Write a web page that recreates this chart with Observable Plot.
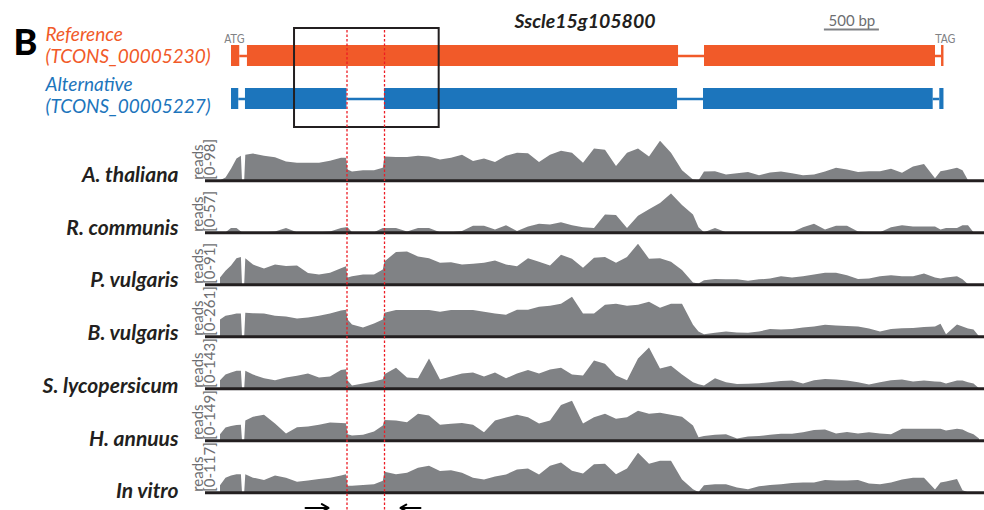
<!DOCTYPE html>
<html><head><meta charset="utf-8">
<script src="https://cdn.jsdelivr.net/npm/d3@7"></script>
<script src="https://cdn.jsdelivr.net/npm/@observablehq/plot@0.6"></script>
<style>
body{margin:0;background:#fff;}
#chart{position:relative;width:984px;height:510px;overflow:hidden;background:#fff;}
#chart svg{position:absolute;left:0;}
</style></head><body><div id="chart"></div>
<script>
// ---------- data ----------
const geneName = "Sscle15g105800";
const panelLetter = "B";
const transcripts = ["Reference", "Alternative"];
const transcriptIds = ["TCONS_00005230", "TCONS_00005227"];
// gene models, bp from ATG
const refBlocks = [[0, 75], [145, 4064], [4300, 6400], [6455, 6477]];
const refLinks = [[75, 145], [4064, 4300], [6400, 6455]];
const altBlocks = [[0, 66], [127, 1050], [1391, 4055], [4291, 6379], [6439, 6477]];
const altLinks = [[66, 127], [1050, 1391], [4055, 4291], [6379, 6439]];
const spliceSites = [1050, 1391];
const zoomBox = [573, 1888];
const scaleBar = [5390, 5890];
const primers = [[673, 882], [1718, 1536]];

const species = ["A. thaliana", "R. communis", "P. vulgaris", "B. vulgaris", "S. lycopersicum", "H. annuus", "In vitro"];
const maxReads = [98, 57, 91, 261, 143, 149, 117];

const positions = [-100, -50, 0, 50, 90, 100, 120, 130,
  200, 300, 400, 500, 600, 700, 800, 900, 1000,
  1045, 1060, 1100, 1200, 1300, 1380, 1395,
  1500, 1600, 1700, 1800, 1900, 2000, 2100, 2200, 2300, 2400,
  2500, 2600, 2700, 2800, 2900, 3000, 3100, 3200, 3300, 3400,
  3500, 3600, 3700, 3800, 3900, 4000, 4100, 4200, 4250,
  4300, 4400, 4500, 4600, 4700, 4800, 4900, 5000, 5100, 5200,
  5300, 5400, 5500, 5600, 5700, 5800, 5900, 6000, 6100, 6200,
  6300, 6400, 6450, 6500, 6600, 6650, 6700, 6750, 6800];

const covAthaliana = [0, 7, 28, 52, 59, 0, 0, 61,
  64, 59, 55, 45, 42, 42, 42, 47, 54,
  54, 26, 21, 24, 24, 30, 57,
  56, 56, 59, 57, 50, 54, 61, 46, 52, 44,
  59, 66, 65, 44, 61, 71, 66, 42, 76, 73,
  34, 66, 76, 57, 95, 66, 24, 2, 0,
  21, 22, 14, 17, 20, 12, 19, 21, 17, 12,
  14, 21, 30, 26, 20, 22, 22, 28, 18, 33,
  39, 5, 22, 24, 30, 24, 0, 0, 0];
const covRcommunis = [0, 0, 6, 6, 1, 0, 0, 0,
  0, 0, 1, 6, 0, 0, 0, 1, 6,
  7, 7, 0, 0, 0, 6, 6,
  6, 1, 6, 6, 0, 0, 2, 9, 9, 4,
  10, 2, 8, 12, 11, 14, 10, 7, 6, 25,
  24, 6, 23, 32, 41, 54, 38, 25, 7,
  0, 6, 0, 0, 0, 0, 0, 0, 0, 7,
  12, 4, 9, 9, 1, 0, 0, 7, 10, 8,
  8, 8, 4, 6, 6, 10, 10, 0, 0];
const covPvulgaris = [15, 30, 42, 58, 61, 0, 0, 58,
  44, 35, 44, 41, 42, 25, 22, 26, 36,
  40, 15, 18, 22, 22, 33, 51,
  72, 73, 62, 58, 48, 49, 44, 46, 48, 53,
  44, 40, 58, 50, 42, 66, 57, 37, 59, 61,
  48, 61, 90, 57, 58, 50, 32, 4, 2,
  9, 12, 11, 11, 8, 11, 13, 18, 15, 18,
  22, 26, 26, 20, 12, 13, 18, 20, 18, 18,
  24, 15, 13, 15, 18, 11, 0, 0, 0];
const covBvulgaris = [107, 132, 138, 145, 145, 0, 0, 151,
  147, 145, 132, 126, 113, 120, 132, 145, 164,
  170, 107, 75, 57, 82, 107, 151,
  168, 168, 168, 168, 157, 168, 168, 168, 157, 145,
  138, 170, 170, 189, 195, 208, 252, 145, 145, 201,
  208, 195, 201, 220, 182, 208, 208, 74, 31,
  13, 22, 31, 25, 22, 31, 46, 44, 47, 57,
  63, 74, 69, 66, 63, 50, 31, 47, 52, 53,
  60, 63, 80, 13, 75, 63, 50, 44, 0];
const covSlycopersicum = [28, 48, 55, 61, 61, 0, 0, 61,
  48, 35, 28, 38, 44, 52, 38, 41, 64,
  67, 27, 10, 17, 24, 32, 49,
  72, 38, 35, 104, 31, 41, 52, 55, 41, 55,
  35, 52, 64, 52, 66, 72, 48, 45, 97, 86,
  45, 28, 104, 143, 69, 79, 48, 21, 14,
  10, 35, 21, 15, 16, 18, 21, 26, 27, 17,
  28, 33, 31, 27, 21, 13, 21, 28, 31, 24,
  27, 24, 23, 17, 27, 27, 21, 17, 0];
const covHannuus = [22, 47, 52, 56, 57, 0, 0, 72,
  86, 93, 61, 25, 48, 50, 57, 65, 63,
  62, 22, 18, 20, 32, 54, 74,
  72, 66, 97, 90, 57, 60, 63, 57, 29, 72,
  83, 93, 84, 61, 72, 129, 144, 61, 84, 97,
  79, 84, 108, 97, 100, 93, 86, 54, 11,
  16, 20, 22, 7, 14, 16, 20, 24, 24, 29,
  38, 39, 25, 30, 25, 29, 25, 22, 42, 42,
  42, 42, 42, 36, 42, 39, 29, 22, 7];
const covInvitro = [20, 42, 48, 52, 52, 0, 0, 52,
  42, 35, 48, 42, 30, 34, 38, 42, 48,
  52, 19, 19, 21, 23, 33, 59,
  52, 56, 70, 76, 61, 63, 56, 42, 37, 45,
  51, 65, 68, 51, 76, 85, 62, 54, 80, 82,
  52, 68, 113, 82, 90, 90, 37, 9, 1,
  20, 23, 23, 14, 9, 17, 21, 23, 27, 28,
  28, 35, 34, 34, 35, 25, 23, 28, 37, 42,
  42, 8, 28, 31, 38, 6, 0, 0, 0];
const coverages = [covAthaliana, covRcommunis, covPvulgaris, covBvulgaris, covSlycopersicum, covHannuus, covInvitro];

// ---------- layout ----------
const W = 984;
const pxPerBp = 55 / 500;                 // 500 bp scale bar = 55 px
const left = 205, atgPx = 231;
const xDomain = [(left - atgPx) / pxPerBp, (W - atgPx) / pxPerBp];
const orange = "#f15a29", blue = "#1c75bc", grey = "#808285", dark = "#231f20", textGrey = "#6d6e71";
const font = "Lato, 'Open Sans', sans-serif";
const narrow = "'Liberation Sans Narrow', 'DejaVu Sans Condensed', Lato, sans-serif";
const container = document.getElementById("chart");

// ---------- gene model ----------
const gene = Plot.plot({
  width: W, height: 130, marginLeft: left, marginRight: 0, marginTop: 34, marginBottom: 10,
  x: {domain: xDomain, axis: null},
  y: {type: "band", domain: transcripts, paddingInner: 0.512, paddingOuter: 0.256, axis: null},
  style: {fontFamily: font, background: "transparent", overflow: "visible"},
  marks: [
    Plot.ruleY(refLinks, {x1: d => d[0], x2: d => d[1], y: () => transcripts[0], stroke: orange, strokeWidth: 2.5}),
    Plot.barX(refBlocks, {x1: d => d[0], x2: d => d[1], y: () => transcripts[0], fill: orange}),
    Plot.ruleY(altLinks, {x1: d => d[0], x2: d => d[1], y: () => transcripts[1], stroke: blue, strokeWidth: 2.5}),
    Plot.barX(altBlocks, {x1: d => d[0], x2: d => d[1], y: () => transcripts[1], fill: blue}),
    Plot.barX([zoomBox], {x1: d => d[0], x2: d => d[1], fill: "none", stroke: dark, strokeWidth: 2, insetTop: -6, insetBottom: -7}),
    Plot.barX([scaleBar], {x1: d => d[0], x2: d => d[1], fill: grey, insetTop: -5.5, insetBottom: 89.5}),
    Plot.text([scaleBar], {x: d => (d[0] + d[1]) / 2, text: d => `${d[1] - d[0]} bp`, frameAnchor: "top", lineAnchor: "bottom", dy: -9, fontSize: 15, fill: textGrey}),
    Plot.text([geneName], {text: d => d, frameAnchor: "top", lineAnchor: "bottom", dx: -10, dy: -7, fontSize: 19.5, fontWeight: "bold", fontStyle: "italic", fill: dark}),
    Plot.text(["ATG"], {x: () => refBlocks[0][0], text: d => d, frameAnchor: "top", lineAnchor: "bottom", dx: 3, dy: 8, fontSize: 11.5, fill: grey, fontFamily: narrow}),
    Plot.text(["TAG"], {x: () => refBlocks[refBlocks.length - 1][1], text: d => d, frameAnchor: "top", lineAnchor: "bottom", dx: 1.5, dy: 8, fontSize: 11.5, fill: grey, fontFamily: narrow}),
    Plot.text([panelLetter], {text: d => d, frameAnchor: "top-left", textAnchor: "start", lineAnchor: "bottom", dx: -192, dy: 20, fontSize: 36, fontWeight: "900", fill: "#000"}),
    Plot.text([transcripts[0]], {y: d => d, text: d => `${d}\n(${transcriptIds[0]})`, frameAnchor: "left", textAnchor: "start", lineAnchor: "bottom", lineHeight: 1.15, dx: -160, dy: 6.8, fontSize: 19, fontStyle: "italic", fill: orange}),
    Plot.text([transcripts[1]], {y: d => d, text: d => `${d}\n(${transcriptIds[1]})`, frameAnchor: "left", textAnchor: "start", lineAnchor: "bottom", lineHeight: 1.15, dx: -160, dy: 14.2, fontSize: 19, fontStyle: "italic", fill: blue})
  ]
});
gene.style.top = "0px";
container.appendChild(gene);

// ---------- coverage tracks ----------
const rows = [];
coverages.forEach((vals, i) => vals.forEach((v, j) => rows.push({species: species[i], pos: positions[j], reads: v, frac: Math.min(v / maxReads[i], 1)})));

const step = 52.75, peakPx = 41.5, baseFromTop = 48;
const tracksH = 380;
const labelDrift = 0.75; // species labels drift slightly downward relative to the tracks
const tracks = Plot.plot({
  width: W, height: tracksH, marginLeft: left, marginRight: 0, marginTop: 0, marginBottom: tracksH - 7 * step,
  x: {domain: xDomain, axis: null},
  y: {domain: [-(step - baseFromTop) / peakPx, 1 + (baseFromTop - peakPx) / peakPx], axis: null},
  fy: {domain: species, axis: null, padding: 0},
  style: {fontFamily: font, background: "transparent", overflow: "visible"},
  marks: [
    Plot.areaY(rows, {x: "pos", y: "frac", fy: "species", fill: grey}),
    Plot.ruleY(species, {y: () => 0, fy: d => d, stroke: dark, strokeWidth: 3}),
    Plot.text(species, {fy: d => d, y: (d, i) => -(i * labelDrift) / peakPx, text: d => d, frameAnchor: "left", textAnchor: "end", lineAnchor: "bottom", dx: -27, dy: 1, fontSize: 21, fontWeight: "bold", fontStyle: "italic", fill: dark}),
    Plot.text(species, {fy: d => d, y: () => 0, text: () => "reads", frameAnchor: "left", rotate: -90, textAnchor: "start", lineAnchor: "middle", dx: -7, dy: -1, fontSize: 15, fill: textGrey}),
    Plot.text(species, {fy: d => d, y: () => 0, text: (d, i) => `[0-${maxReads[i]}]`, frameAnchor: "left", rotate: -90, textAnchor: "start", lineAnchor: "middle", dx: 4.5, dy: -1, fontSize: 15, fill: textGrey}),
    Plot.arrow(primers, {x1: d => d[0], x2: d => d[1], y1: () => -0.37, y2: () => -0.37, fy: () => species[species.length - 1], stroke: "#000", strokeWidth: 2, headLength: 10, bend: 0})
  ]
});
tracks.style.top = "130px";
container.appendChild(tracks);

// ---------- splice-site guide lines ----------
const overlay = Plot.plot({
  width: W, height: 510, marginLeft: left, marginRight: 0, marginTop: 30, marginBottom: 0,
  x: {domain: xDomain, axis: null},
  style: {background: "transparent", overflow: "visible"},
  marks: [
    Plot.ruleX(spliceSites, {stroke: "#ed1c24", strokeWidth: 1.3, strokeDasharray: "2.5,2"})
  ]
});
overlay.style.top = "0px";
overlay.style.pointerEvents = "none";
container.appendChild(overlay);
</script>
</body></html>
